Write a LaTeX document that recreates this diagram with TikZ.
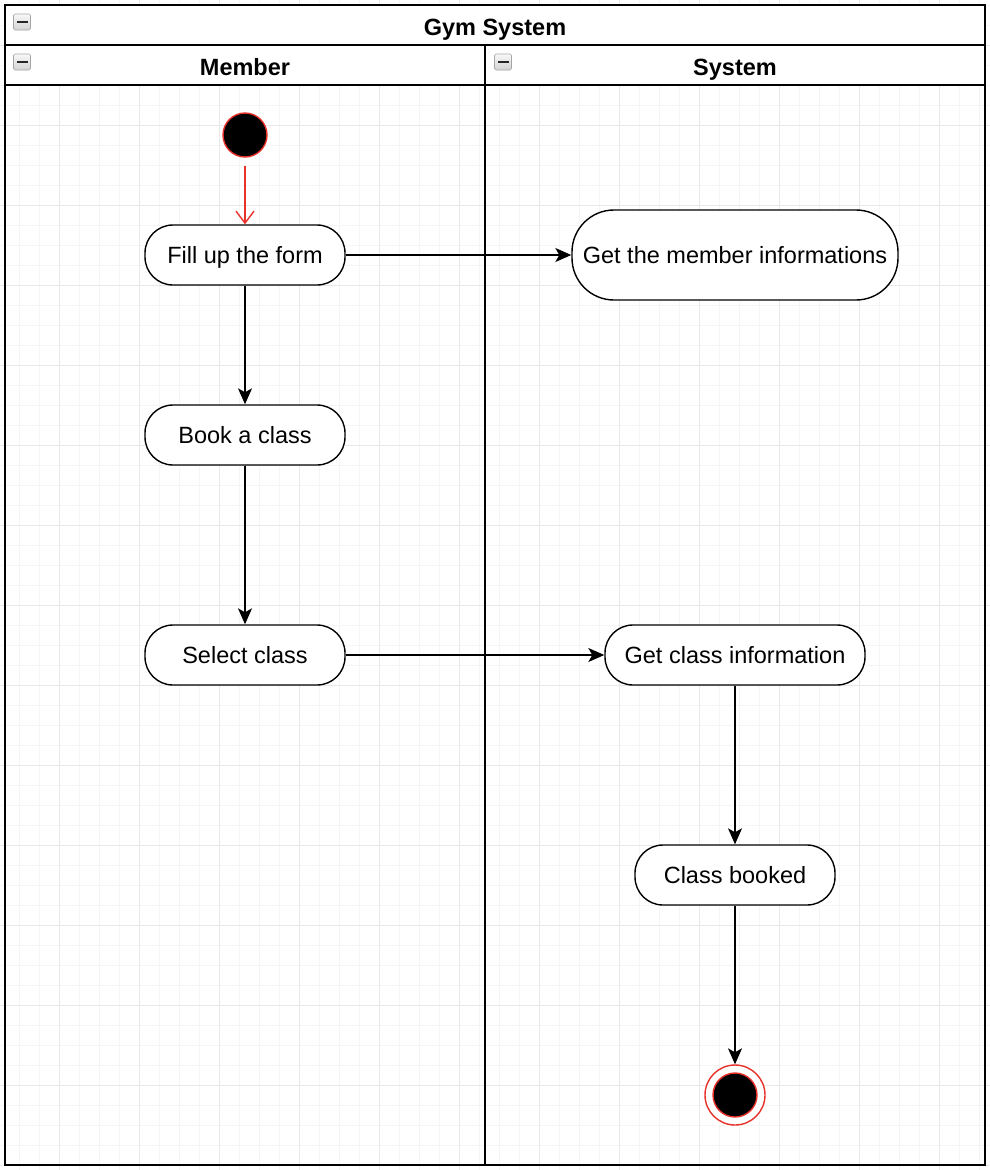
\documentclass[tikz,border=0pt]{standalone}
\usepackage{fontspec}
\setmainfont{Liberation Sans}
\usetikzlibrary{arrows.meta}
\definecolor{gridminor}{HTML}{F5F5F5}
\definecolor{gridmajor}{HTML}{E8E8E8}
\definecolor{umlred}{HTML}{E8312A}
\tikzset{
  act/.style={draw=black, line width=1.4pt, fill=white, rounded corners=28pt,
    minimum width=200pt, minimum height=60pt, font=\fontsize{23.5}{28}\selectfont,
    text height=21pt, text depth=4pt, inner sep=4pt},
  flow/.style={line width=1.4pt, -{Stealth[length=16pt,width=14pt,inset=4pt]}},
  frame/.style={line width=2pt, draw=black},
  hdr/.style={font=\bfseries\fontsize{23.5}{28}\selectfont, anchor=base},
  minusicon/.style={draw=gray!70, top color=gray!5, bottom color=gray!35, rounded corners=1.5pt, line width=0.6pt, minimum width=17pt, minimum height=16pt, inner sep=0pt}
}
\begin{document}
\begin{tikzpicture}[x=1pt,y=-1pt]
\useasboundingbox (0,0) rectangle (990,1170);
\fill[white] (0,0) rectangle (990,1170);
% grid
\foreach \x in {19,39,...,989} \draw[gridminor, line width=0.8pt] (\x,0) -- (\x,1170);
\foreach \y in {5,25,...,1169} \draw[gridminor, line width=0.8pt] (0,\y) -- (990,\y);
\foreach \x in {59,139,...,989} \draw[gridmajor, line width=0.8pt] (\x,0) -- (\x,1170);
\foreach \y in {45,125,...,1169} \draw[gridmajor, line width=0.8pt] (0,\y) -- (990,\y);
% pool
\fill[white] (5,5) rectangle (985,85);
\draw[frame] (5,5) rectangle (985,1165);
\draw[frame] (5,45) -- (985,45);
\draw[frame] (5,85) -- (985,85);
\draw[frame] (485,45) -- (485,1165);
\node[hdr] (title) at (495,35) {Gym System};
\node[hdr] (member) at (245,75) {Member};
\node[hdr] (system) at (735,75) {System};
\node[minusicon] (m1) at (22,22) {};
\node[minusicon] (m2) at (22,62) {};
\node[minusicon] (m3) at (503,62) {};
\foreach \m in {m1,m2,m3} \draw[black!85, line width=2.2pt] ([xshift=-5.5pt]\m.center) -- ([xshift=5.5pt]\m.center);
% nodes
\node[circle, draw=umlred, fill=black, line width=1.4pt, minimum size=44pt, inner sep=0pt] (start) at (245,135) {};
\node[act] (fill) at (245,255) {Fill up the form};
\node[act, minimum width=326pt, minimum height=90pt, rounded corners=42pt] (getmem) at (735,255) {Get the member informations};
\node[act] (book) at (245,435) {Book a class};
\node[act] (select) at (245,655) {Select class};
\node[act, minimum width=260pt] (getclass) at (735,655) {Get class information};
\node[act] (booked) at (735,875) {Class booked};
\node[circle, draw=umlred, fill=white, line width=1.4pt, minimum size=60pt, inner sep=0pt] (final) at (735,1095) {};
\node[circle, draw=umlred, fill=black, line width=1.4pt, minimum size=44pt, inner sep=0pt] (finalin) at (735,1095) {};
% connectors
\draw[umlred, line width=1.4pt, -{Straight Barb[length=12pt,width=18pt]}, shorten <=8pt] (start) -- (fill);
\draw[flow] (fill) -- (getmem);
\draw[flow] (fill) -- (book);
\draw[flow] (book) -- (select);
\draw[flow] (select) -- (getclass);
\draw[flow] (getclass) -- (booked);
\draw[flow] (booked) -- (final);
\end{tikzpicture}
\end{document}
